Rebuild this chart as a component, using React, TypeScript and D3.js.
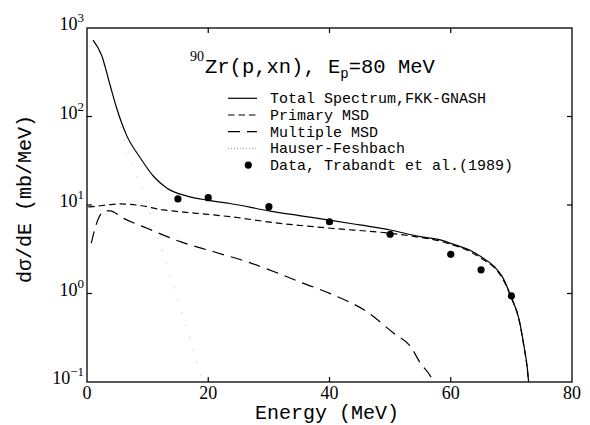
import React from 'react';
import * as d3 from 'd3';

// Total spectrum, FKK-GNASH
const totalE = [1.0, 2.4, 3.8, 4.9, 6.5, 8.8, 11, 13.2, 16.5, 20, 23.6, 30, 35, 40, 45, 50, 55, 58.3, 60, 63.5, 65, 67.2, 68.5, 69.9, 71.3, 72.1, 72.6, 72.9];
const totalV = [731, 495, 227, 124, 62, 34, 21, 15.5, 12.6, 11.3, 10.4, 8.6, 7.6, 6.76, 5.95, 5.22, 4.39, 4.03, 3.69, 3.0, 2.6, 2.01, 1.55, 0.94, 0.5, 0.25, 0.149, 0.09];
// Primary MSD
const primaryE = [0.2, 1, 3.3, 5.5, 8.2, 12.6, 18.1, 23.6, 31, 40.2, 50, 55, 58, 60, 63.5, 65, 67.2, 68.5, 69.9, 71.3, 72.1, 72.6, 72.9];
const primaryV = [9.5, 9.6, 10, 10.3, 10, 8.8, 8.06, 7.38, 6.3, 5.46, 4.79, 4.3, 3.95, 3.6, 2.9, 2.5, 1.95, 1.5, 0.92, 0.49, 0.245, 0.146, 0.09];
// Multiple MSD
const multipleE = [0.7, 1.9, 3.0, 3.8, 6.0, 9.9, 15.4, 20.9, 26.4, 31, 35.5, 40.7, 46.2, 50.6, 53.4, 55, 56.7, 57.3];
const multipleV = [3.7, 7.1, 8.6, 8.6, 7.08, 5.46, 3.85, 2.96, 2.28, 1.75, 1.32, 0.96, 0.62, 0.355, 0.25, 0.163, 0.115, 0.095];
// Hauser-Feshbach
const hfE = [1, 2, 3, 4, 5, 6, 7, 8, 9, 10, 11, 12, 13, 14, 15, 16, 17, 18, 19, 19.6];
const hfV = [717, 540, 350, 200, 110, 60, 35, 23, 16, 10, 6, 3.7, 2.3, 1.4, 0.85, 0.5, 0.3, 0.18, 0.11, 0.09];
// Data, Trabandt et al. (1989)
const dataE = [15, 20, 30, 40, 50, 60, 65, 70];
const dataV = [11.7, 12.1, 9.57, 6.47, 4.67, 2.77, 1.85, 0.94];

const xTicks = [0, 20, 40, 60, 80];
const yExps = [-1, 0, 1, 2, 3];
const legendLabels = [
  'Total Spectrum,FKK-GNASH',
  'Primary MSD',
  'Multiple MSD',
  'Hauser-Feshbach',
  'Data, Trabandt et al.(1989)',
];

const MONO = '"Liberation Mono", "DejaVu Sans Mono", monospace';
const SERIF = '"Liberation Serif", "DejaVu Serif", serif';

export default function App() {
  const W = 590, H = 425;
  const L = 87, R = 572, T = 28, B = 382;
  const x = d3.scaleLinear().domain([0, 80]).range([L, R]);
  const y = d3.scaleLog().domain([0.1, 1000]).range([B, T]);
  const line = d3.line<[number, number]>()
    .x(d => x(d[0]))
    .y(d => y(d[1]))
    .curve(d3.curveMonotoneX);
  const zip = (a: number[], b: number[]) => a.map((v, i) => [v, b[i]] as [number, number]);

  const styles = [
    { dash: undefined as string | undefined, color: '#000', w: 1.2 },
    { dash: '6.5 4', color: '#000', w: 1.2 },
    { dash: '12 7', color: '#000', w: 1.2 },
    { dash: '1 12', color: '#aaa', w: 0.9 },
  ];
  const series = [
    zip(totalE, totalV),
    zip(primaryE, primaryV),
    zip(multipleE, multipleV),
    zip(hfE, hfV),
  ];

  const legX0 = 228, legX1 = 257, legTextX = 270, legY0 = 103.3, legDy = 16.7;

  return (
    <svg width={W} height={H} style={{ position: 'absolute', left: 0, top: 0, background: '#fff' }}>
      <defs>
        <clipPath id="plot">
          <rect x={L} y={T} width={R - L} height={B - T} />
        </clipPath>
      </defs>
      <rect x={0} y={0} width={W} height={H} fill="#fff" />
      <g clipPath="url(#plot)">
        {[3, 0, 1, 2].map(i => (
          <path key={i} d={line(series[i]) || ''} fill="none" stroke={styles[i].color}
            strokeWidth={styles[i].w} strokeDasharray={styles[i].dash} />
        ))}
        {dataE.map((e, i) => (
          <circle key={i} cx={x(e)} cy={y(dataV[i])} r={3.6} fill="#000" />
        ))}
      </g>
      {/* frame */}
      <rect x={L} y={T} width={R - L} height={B - T} fill="none" stroke="#000" strokeWidth={1.3} />
      {/* x ticks */}
      {xTicks.slice(1, -1).map(t => (
        <g key={t}>
          <line x1={x(t)} x2={x(t)} y1={B} y2={B - 5} stroke="#000" strokeWidth={1.2} />
          <line x1={x(t)} x2={x(t)} y1={T} y2={T + 5} stroke="#000" strokeWidth={1.2} />
        </g>
      ))}
      {xTicks.map(t => (
        <text key={t} x={x(t)} y={399} textAnchor="middle" fontFamily={SERIF} fontSize={18} fill="#000">{t}</text>
      ))}
      {/* y ticks */}
      {yExps.slice(1, -1).map(e => (
        <g key={e}>
          <line x1={L} x2={L + 5} y1={y(Math.pow(10, e))} y2={y(Math.pow(10, e))} stroke="#000" strokeWidth={1.2} />
          <line x1={R} x2={R - 5} y1={y(Math.pow(10, e))} y2={y(Math.pow(10, e))} stroke="#000" strokeWidth={1.2} />
        </g>
      ))}
      {yExps.map(e => (
        <text key={e} x={84} y={y(Math.pow(10, e)) + 2} textAnchor="end" fontFamily={SERIF} fill="#000">
          <tspan fontSize={18}>10</tspan>
          <tspan fontSize={13} dy={-8}>{e < 0 ? '\u2212' + Math.abs(e) : String(e)}</tspan>
        </text>
      ))}
      {/* axis titles */}
      <text x={327} y={419} textAnchor="middle" fontFamily={MONO} fontSize={20} fill="#000">Energy (MeV)</text>
      <text transform="translate(31,199) rotate(-90)" textAnchor="middle" fontFamily={MONO} fontSize={20} fill="#000">d{'\u03c3'}/dE (mb/MeV)</text>
      {/* title */}
      <text x={190} y={61} fontFamily={SERIF} fontSize={14} fill="#000">90</text>
      <text x={205} y={73} fontFamily={MONO} fontSize={20.5} fill="#000">
        <tspan>Zr(p,xn), E</tspan>
        <tspan fontSize={14} dy={5}>p</tspan>
        <tspan dy={-5}>=80 MeV</tspan>
      </text>
      {/* legend */}
      {legendLabels.map((lab, i) => {
        const yy = legY0 + i * legDy;
        const ly = yy - 5;
        return (
          <g key={i}>
            {i < 4 ? (
              <line x1={legX0} x2={legX1} y1={ly} y2={ly} stroke={i === 3 ? '#888' : styles[i].color}
                strokeWidth={styles[i].w} strokeDasharray={i === 3 ? '1 2' : styles[i].dash} />
            ) : (
              <circle cx={248.3} cy={ly} r={3.6} fill="#000" />
            )}
            <text x={legTextX} y={yy} fontFamily={MONO} fontSize={15} fill="#000">{lab}</text>
          </g>
        );
      })}
    </svg>
  );
}
